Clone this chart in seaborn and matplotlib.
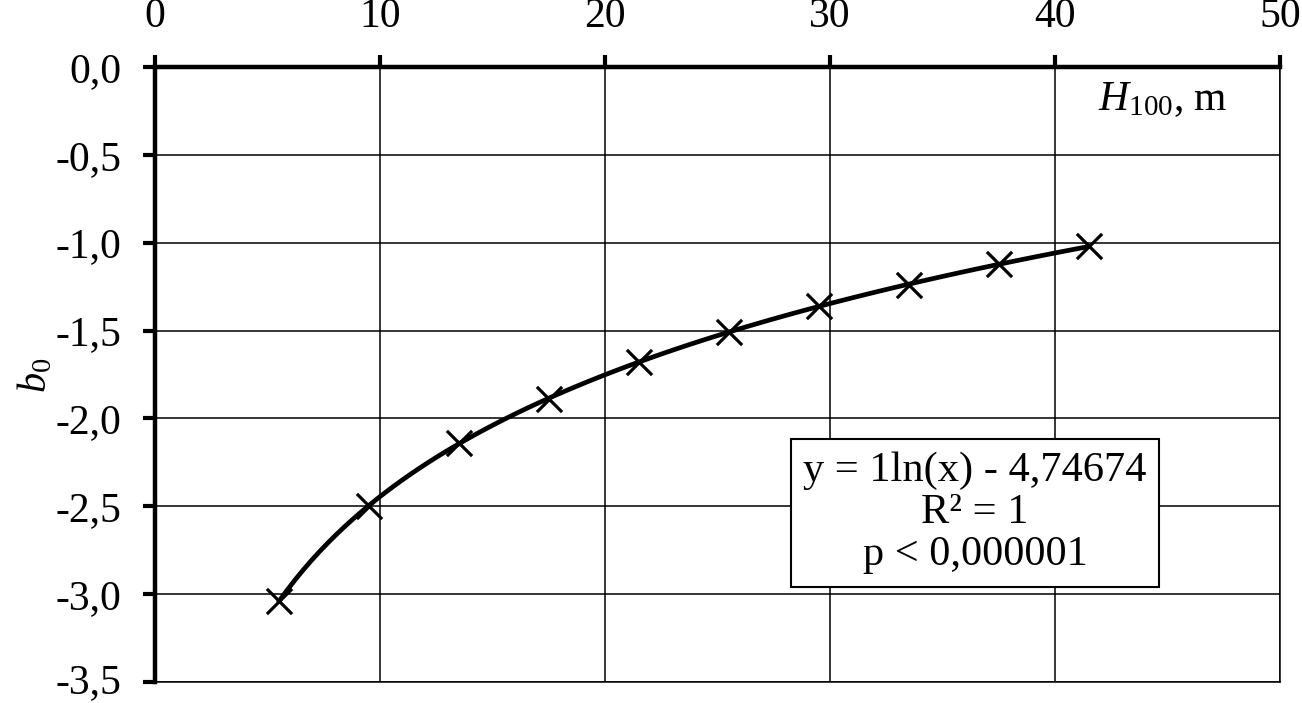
import matplotlib
matplotlib.use("Agg")
import matplotlib.pyplot as plt
import matplotlib.ticker as mticker
import matplotlib.transforms as mtransforms
import seaborn as sns
import pandas as pd

# Data
h100 = [5.5, 9.5, 13.5, 17.5, 21.5, 25.5, 29.5, 33.5, 37.5, 41.5]
b0 = [-3.04, -2.50, -2.14, -1.89, -1.68, -1.51, -1.36, -1.24, -1.12, -1.02]
x_ticks = [0, 10, 20, 30, 40, 50]
y_ticks = [0.0, -0.5, -1.0, -1.5, -2.0, -2.5, -3.0, -3.5]
eq_lines = ["y = 1ln(x) - 4,74674", "R² = 1", "p < 0,000001"]

df = pd.DataFrame({"H100": h100, "b0": b0})

sns.set_theme(style="white")
plt.rcParams['font.family'] = ['Liberation Serif', 'DejaVu Serif']
plt.rcParams['mathtext.fontset'] = 'custom'
plt.rcParams['mathtext.rm'] = 'Liberation Serif'
plt.rcParams['mathtext.it'] = 'Liberation Serif:italic'

fig = plt.figure(figsize=(13.02, 7.03), dpi=100)
ax = fig.add_axes([155/1302, 1 - 682/703, (1280-155)/1302, (682-67)/703])

# logarithmic trendline (library fit) + markers
sns.regplot(data=df, x="H100", y="b0", logx=True, ci=None, scatter=False,
            truncate=True, color="black", line_kws=dict(linewidth=3.4, zorder=3), ax=ax)
sns.scatterplot(data=df, x="H100", y="b0", marker="x", color="black", s=330,
                linewidth=2.3, ax=ax, zorder=4)

ax.set_xlim(0, 50)
ax.set_ylim(-3.5, 0.0)
ax.set_xticks(x_ticks)
ax.set_yticks(y_ticks)
ax.yaxis.set_major_formatter(mticker.FuncFormatter(lambda v, p: f"{v:.1f}".replace(".", ",")))
ax.xaxis.tick_top()
ax.grid(True, color="black", linewidth=1.1)
ax.set_axisbelow(True)

for side in ["left", "top"]:
    ax.spines[side].set_linewidth(3.2)
    ax.spines[side].set_color("black")
for side in ["right", "bottom"]:
    ax.spines[side].set_linewidth(1.1)
    ax.spines[side].set_color("black")

ax.tick_params(axis="x", which="major", top=True, bottom=False, direction="out",
               length=9, width=3, pad=13, labelsize=30, colors="black")
ax.tick_params(axis="y", which="major", left=True, direction="out",
               length=9, width=3, pad=15, labelsize=30, colors="black")

# nudge the lowest y label up a little so it stays inside the figure
fig.canvas.draw()
low_lbl = ax.yaxis.get_majorticklabels()[-1]
low_lbl.set_transform(low_lbl.get_transform() +
                      mtransforms.ScaledTranslation(0, 4/100, fig.dpi_scale_trans))

ax.set_xlabel("")
ax.set_ylabel("")
fig.text(1163/1302, 1 - 100/703, r"$\mathit{H}_{100}$, m",
         ha="center", va="center", fontsize=30, color="black")
fig.text(36/1302, 1 - 375/703, r"$\mathit{b}_{0}$", rotation=90,
         ha="center", va="center", fontsize=29, color="black")

fig.text(975/1302, 1 - 513/703, "\n".join(eq_lines),
         ha="center", va="center", fontsize=30.5, color="black", linespacing=1.12,
         bbox=dict(boxstyle="square,pad=0.3", facecolor="white", edgecolor="black", linewidth=1.5),
         zorder=5)

fig.savefig("out.png", dpi=100)
